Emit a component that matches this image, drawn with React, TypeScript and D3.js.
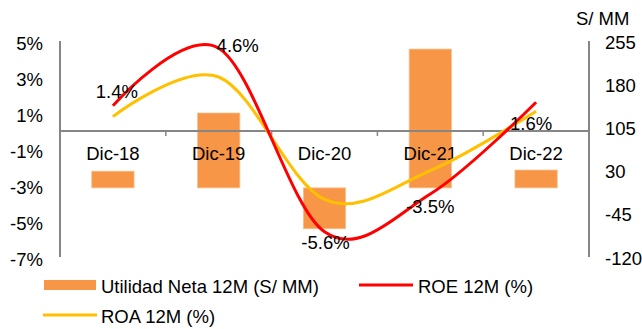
import React from "react";
import * as d3 from "d3";

const categories = ["Dic-18", "Dic-19", "Dic-20", "Dic-21", "Dic-22"];
const utilidad = [29, 130, -71, 241, 31];
const roe = [1.4, 4.6, -5.6, -3.5, 1.6];
const roa = [0.8, 3.0, -3.8, -2.2, 1.1];
const roeLabels = ["1.4%", "4.6%", "-5.6%", "-3.5%", "1.6%"];
const leftTicks = [5, 3, 1, -1, -3, -5, -7];
const rightTicks = [255, 180, 105, 30, -45, -120];

// label offsets relative to the ROE point (styling only)
const labelOffsets: [number, number][] = [
  [4, -14],
  [19, -3],
  [1, 11],
  [0, 12.5],
  [-5, 21],
];

const W = 642;
const H = 329;
const FONT = "'Liberation Sans', Arial, sans-serif";
const FS = 18.5;

export default function App() {
  const left = 60;
  const right = 589;
  const top = 41;
  const bottom = 257;

  const x = d3.scaleBand<string>().domain(categories).range([left, right]);
  const bw = x.bandwidth();
  const cx = (c: string) => (x(c) as number) + bw / 2;
  const yL = d3.scaleLinear().domain([-7, 5]).range([bottom, top]);
  const yR = d3.scaleLinear().domain([-120, 255]).range([bottom, top]);
  const y0 = yL(0);

  const line = d3
    .line<number>()
    .x((_, i) => cx(categories[i]))
    .y((d) => yL(d))
    .curve(d3.curveCardinal.tension(0));

  const barW = bw * 0.4;
  const orange = "#F79646";
  const axisColor = "#868686";

  return (
    <svg
      width={W}
      height={H}
      style={{ position: "absolute", left: 0, top: 0, background: "#fff" }}
      fontFamily={FONT}
      fontSize={FS}
    >
      {/* bars */}
      {categories.map((c, i) => {
        const v = utilidad[i];
        const y1 = yR(Math.max(0, v));
        const y2 = yR(Math.min(0, v));
        return (
          <rect
            key={c}
            x={cx(c) - barW / 2}
            y={y1}
            width={barW}
            height={y2 - y1}
            fill={orange}
            stroke="#FAC090"
            strokeWidth={0.75}
          />
        );
      })}

      {/* axes */}
      <line x1={left} x2={left} y1={top} y2={bottom} stroke={axisColor} strokeWidth={2} />
      <line x1={right} x2={right} y1={top} y2={bottom} stroke={axisColor} strokeWidth={2} />
      <line x1={left} x2={right} y1={y0} y2={y0} stroke={axisColor} strokeWidth={2} />
      {categories.slice(1).map((c) => (
        <line
          key={"t" + c}
          x1={x(c) as number}
          x2={x(c) as number}
          y1={y0}
          y2={y0 + 5}
          stroke={axisColor}
          strokeWidth={1.5}
        />
      ))}

      {/* left tick labels */}
      {leftTicks.map((t) => (
        <text key={"l" + t} x={43} y={yL(t) + 2} textAnchor="end" dominantBaseline="central">
          {t + "%"}
        </text>
      ))}
      {/* right tick labels */}
      {rightTicks.map((t) => (
        <text key={"r" + t} x={605} y={yR(t) + 1} textAnchor="start" dominantBaseline="central">
          {t}
        </text>
      ))}
      <text x={576} y={18} dominantBaseline="central">
        S/ MM
      </text>

      {/* category labels */}
      {categories.map((c) => (
        <text key={"c" + c} x={cx(c)} y={y0 + 22} textAnchor="middle" dominantBaseline="central">
          {c}
        </text>
      ))}

      {/* lines */}
      <path d={line(roa) || ""} fill="none" stroke="#FFC000" strokeWidth={3} />
      <path d={line(roe) || ""} fill="none" stroke="#FF0000" strokeWidth={3} />

      {/* ROE data labels */}
      {categories.map((c, i) => (
        <text
          key={"d" + c}
          x={cx(c) + labelOffsets[i][0]}
          y={yL(roe[i]) + labelOffsets[i][1]}
          textAnchor="middle"
          dominantBaseline="central"
        >
          {roeLabels[i]}
        </text>
      ))}

      {/* legend */}
      <rect x={44} y={280} width={52} height={10} fill={orange} />
      <text x={101} y={286} dominantBaseline="central">
        Utilidad Neta 12M (S/ MM)
      </text>
      <line x1={359} x2={413} y1={285} y2={285} stroke="#FF0000" strokeWidth={3} />
      <text x={418} y={286} dominantBaseline="central">
        ROE 12M (%)
      </text>
      <line x1={43} x2={97} y1={315} y2={315} stroke="#FFC000" strokeWidth={3} />
      <text x={101} y={316} dominantBaseline="central">
        ROA 12M (%)
      </text>
    </svg>
  );
}
